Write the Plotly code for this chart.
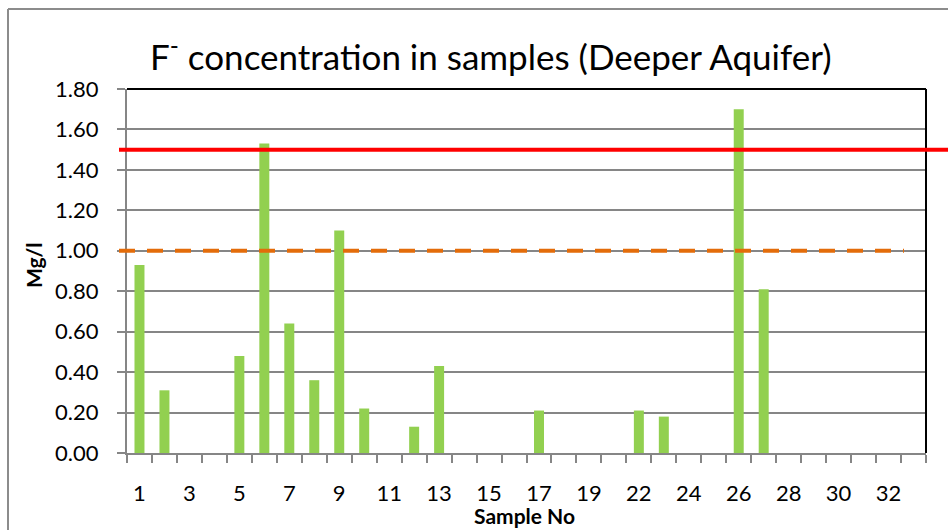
import plotly.graph_objects as go

# Sample numbers (21 was not sampled) and fluoride concentration in mg/l
samples = [str(i) for i in range(1, 21)] + [str(i) for i in range(22, 34)]
fluoride = [0.93, 0.31, 0.00, 0.00, 0.48, 1.53, 0.64, 0.36, 1.10, 0.22,
            0.00, 0.13, 0.43, 0.00, 0.00, 0.00, 0.21, 0.00, 0.00, 0.00,
            0.21, 0.18, 0.00, 0.00, 1.70, 0.81, 0.00, 0.00, 0.00, 0.00,
            0.00, 0.00]

# Guideline limits (mg/l)
permissible_limit = 1.5
desirable_limit = 1.0

y_ticks = [0.0, 0.2, 0.4, 0.6, 0.8, 1.0, 1.2, 1.4, 1.6, 1.8]

# only every other category carries a label
tick_text = [s if i % 2 == 0 else "" for i, s in enumerate(samples)]

FONT = "Lato"
GRID = "#868686"

fig = go.Figure()
fig.add_trace(go.Bar(
    x=samples, y=fluoride,
    marker=dict(color="#92D050", line=dict(width=0)),
    showlegend=False,
))

fig.update_layout(
    width=948, height=530,
    margin=dict(l=127, r=22, t=89, b=77),
    paper_bgcolor="white", plot_bgcolor="white",
    bargap=0.6,
    font=dict(family=FONT, color="black", size=21),
    xaxis=dict(
        type="category",
        tickmode="array", tickvals=samples, ticktext=tick_text,
        tickson="boundaries", tickangle=0,
        ticks="outside", ticklen=8, tickwidth=2, tickcolor=GRID,
        showline=True, linecolor=GRID, linewidth=2,
        showgrid=False,
        tickfont=dict(size=22, family=FONT),
        ticklabelstandoff=20,
    ),
    yaxis=dict(
        range=[0, 1.8],
        tickmode="array", tickvals=y_ticks,
        tickformat=".2f",
        ticks="outside", ticklen=8, tickwidth=2, tickcolor=GRID,
        showline=True, linecolor=GRID, linewidth=2,
        showgrid=True, gridcolor=GRID, gridwidth=1.5,
        zeroline=False,
        tickfont=dict(size=22, family=FONT),
        ticklabelstandoff=14,
    ),
)

# plot-area border on the top and right
fig.add_shape(type="line", xref="paper", yref="paper", x0=0, x1=1, y0=1, y1=1,
              line=dict(color="black", width=2))
fig.add_shape(type="line", xref="paper", yref="paper", x0=1, x1=1, y0=0, y1=1,
              line=dict(color="black", width=2))

# outer chart frame (top and left edges)
fig.add_shape(type="line", xref="paper", yref="paper",
              x0=-119 / 799, x1=821 / 799, y0=1 + 80 / 364, y1=1 + 80 / 364,
              line=dict(color="#8c8c8c", width=2))
fig.add_shape(type="line", xref="paper", yref="paper",
              x0=-119 / 799, x1=-119 / 799, y0=-77 / 364, y1=1 + 80 / 364,
              line=dict(color="#8c8c8c", width=2))

# limit lines
fig.add_shape(type="line", xref="paper", yref="y",
              x0=-8 / 799, x1=821 / 799, y0=permissible_limit, y1=permissible_limit,
              line=dict(color="#FF0000", width=4))
fig.add_shape(type="line", xref="paper", yref="y",
              x0=-8 / 799, x1=777 / 799, y0=desirable_limit, y1=desirable_limit,
              line=dict(color="#E36C0A", width=4, dash="16px,12px"))

# chart title
fig.add_annotation(
    text="F<sup>-</sup> concentration in samples (Deeper Aquifer)",
    xref="paper", yref="paper", x=(491 - 127) / 799, y=(453 - 79) / 364,
    xanchor="center", yanchor="bottom", showarrow=False,
    font=dict(family=FONT, size=35, color="black"),
)

# axis titles
fig.add_annotation(
    text="<b>Sample No</b>", xref="paper", yref="paper",
    x=(524 - 127) / 799, y=-(515 - 453) / 364,
    xanchor="center", yanchor="middle", showarrow=False,
    font=dict(family=FONT, size=21, color="black"),
)
fig.add_annotation(
    text="<b>Mg/l</b>", xref="paper", yref="paper",
    x=-(127 - 33) / 799, y=(453 - 265) / 364, textangle=-90,
    xanchor="center", yanchor="middle", showarrow=False,
    font=dict(family=FONT, size=21, color="black"),
)

fig.write_html("out.html")
